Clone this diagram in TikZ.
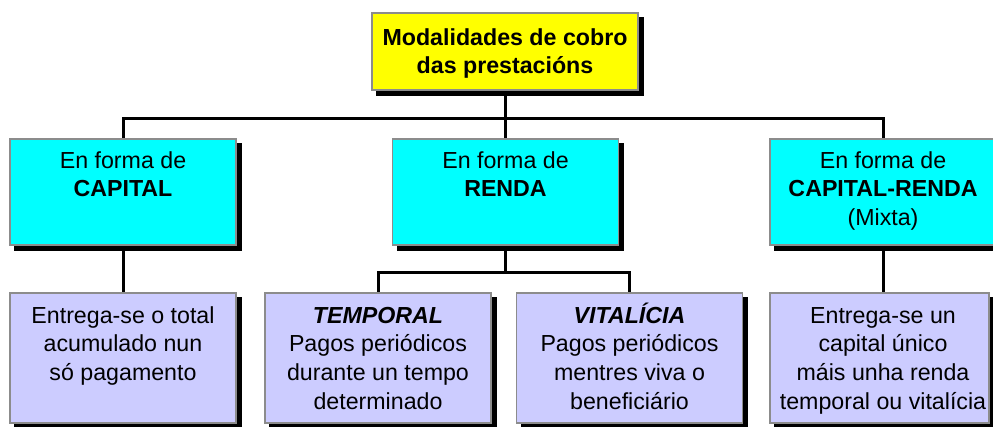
\documentclass[tikz,border=0pt]{standalone}
\usepackage{fontspec}
\setmainfont{Liberation Sans}
\usetikzlibrary{backgrounds,calc}
\definecolor{boxyellow}{HTML}{FFFF00}
\definecolor{boxcyan}{HTML}{00FFFF}
\definecolor{boxlav}{HTML}{CCCCFF}
\definecolor{boxborder}{HTML}{8C8C8C}
\newcommand{\fl}{\rule{0pt}{22pt}}
\begin{document}
\begin{tikzpicture}[x=1pt,y=-1pt,
  box/.style={draw=boxborder, line width=1.3pt, rectangle, inner sep=0pt},
  topbox/.style={box, fill=boxyellow, minimum width=266pt, minimum height=77pt},
  midbox/.style={box, fill=boxcyan, minimum width=226pt, minimum height=106pt},
  lowbox/.style={box, fill=boxlav, minimum width=226pt, minimum height=130pt},
  txt/.style={align=center, inner sep=0pt, anchor=north, font=\fontsize{23.2}{28.7}\selectfont},
  conn/.style={line width=3pt, draw=black},
  boxshadow/.style={fill=black}]
\useasboundingbox (0,0) rectangle (993,426);
\coordinate (bus1) at (0,118);
\coordinate (bus2) at (0,272);

\node[topbox] (t) at (505,51.5) {};
\node[txt, font=\fontsize{23.2}{28.7}\selectfont\bfseries] (tt) at (505,23) {\fl Modalidades de cobro\\das prestacións};

\node[midbox] (c1) at (123,192) {};
\node[txt] (c1t) at (123,146) {\fl En forma de\\\textbf{CAPITAL}};
\node[midbox] (c2) at (505.5,192) {};
\node[txt] (c2t) at (505.5,146) {\fl En forma de\\\textbf{RENDA}};
\node[midbox] (c3) at (883,192) {};
\node[txt] (c3t) at (883,146) {\fl En forma de\\\textbf{CAPITAL-RENDA}\\(Mixta)};

\node[lowbox] (b1) at (123,358) {};
\node[txt] (b1t) at (123,301) {\fl Entrega-se o total\\acumulado nun\\só pagamento};
\node[lowbox] (b2) at (378,358) {};
\node[txt] (b2t) at (378,301) {\fl\textbf{\textit{TEMPORAL}}\\Pagos periódicos\\durante un tempo\\determinado};
\node[lowbox] (b3) at (629.5,358) {};
\node[txt] (b3t) at (629.5,301) {\fl\textbf{\textit{VITALÍCIA}}\\Pagos periódicos\\mentres viva o\\beneficiário};
\node[lowbox, minimum width=219pt] (b4) at (879.5,358) {};
\node[txt] (b4t) at (883,301) {\fl Entrega-se un\\capital único\\máis unha renda\\temporal ou vitalícia};

\begin{scope}[on background layer]
\foreach \n in {t,c1,c2,c3,b1,b2,b3,b4}
  \fill[boxshadow] ($(\n.south west)+(5,5)$) rectangle ($(\n.north east)+(5,5)$);
\draw[conn] (t.south) -- (t.south |- bus1);
\draw[conn] (c1.north) -- (c1.north |- bus1) -- (c3.north |- bus1) -- (c3.north);
\draw[conn] (c2.north) -- (c2.north |- bus1);
\draw[conn] (c1.south) -- (b1.north);
\draw[conn] (c2.south) -- (c2.south |- bus2);
\draw[conn] (b2.north) -- (b2.north |- bus2) -- (b3.north |- bus2) -- (b3.north);
\draw[conn] (c3.south) -- (c3.south |- b4.north);
\end{scope}
\end{tikzpicture}
\end{document}
